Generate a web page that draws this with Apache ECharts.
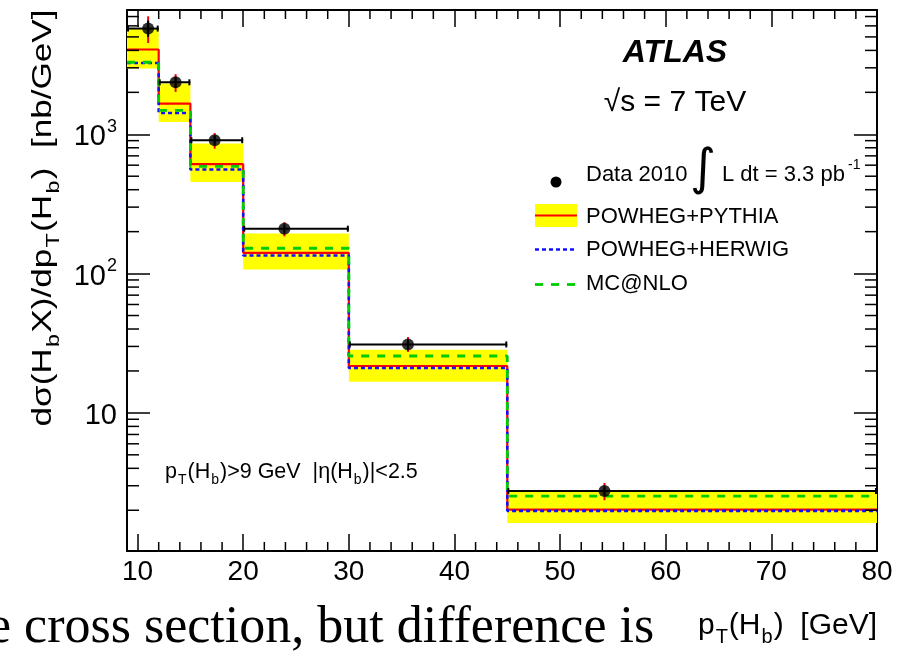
<!DOCTYPE html>
<html>
<head>
<meta charset="utf-8">
<script src="https://cdn.jsdelivr.net/npm/echarts@6/dist/echarts.min.js"></script>
<style>
  html, body { margin: 0; padding: 0; background: #fff; }
  #chart { width: 902px; height: 657px; }
</style>
</head>
<body>
<div id="chart"></div>
<script>
// Bin edges of the b-hadron transverse momentum, GeV
const binEdges = [9, 12, 15, 20, 30, 45, 80];

// Predictions, nb/GeV, one value per bin
const powhegPythia     = [4060, 1660, 610, 141, 21.7, 2.02];
const powhegPythiaLow  = [2970, 1225, 455, 107, 16.7, 1.62];
const powhegPythiaHigh = [5740, 2310, 857, 194, 28.4, 2.70];
const powhegHerwig     = [3250, 1423, 558, 135, 21.0, 1.98];
const mcAtNlo          = [3290, 1486, 589, 152, 25.6, 2.53];

// Measurement: bin centroid, cross section, statistical and total error bands
const dataX       = [11.0, 13.6, 17.3, 23.9, 35.6, 54.2];
const dataY       = [5740, 2360, 906, 210, 31.0, 2.75];
const dataStatLow = [5000, 2150, 835, 196, 28.8, 2.55];
const dataStatHigh= [6550, 2580, 980, 224, 33.2, 2.95];
const dataTotLow  = [4520, 2015, 789, 185, 27.4, 2.36];
const dataTotHigh = [7030, 2700, 1020, 234, 35.0, 3.14];

// Axis ranges and major tick labels
const xRange = [9, 80];
const yRange = [1.02, 7800];
const xTickLabels = [10, 20, 30, 40, 50, 60, 70, 80];
const yTickLabels = [10, 100, 1000];

const FONT = "'Liberation Sans', Arial, Helvetica, sans-serif";
const GRID = { left: 127, top: 10, width: 750, height: 541 };

// step-line points: each bin starts at its lower edge, closing point at the last edge
function stepPoints(values) {
  const pts = values.map((v, i) => [binEdges[i], v]);
  pts.push([binEdges[binEdges.length - 1], values[values.length - 1]]);
  return pts;
}

// minor tick positions (log decades 2..9 and every 2 GeV)
const yMinor = [];
for (let d = 1; d <= 1000; d *= 10) {
  for (let k = 2; k <= 9; k++) {
    const v = k * d;
    if (v > yRange[0] && v < yRange[1]) yMinor.push(v);
  }
}
const xMinor = [];
for (let v = 10; v < 80; v += 2) if (v % 10 !== 0) xMinor.push(v);

const bandData = powhegPythia.map((_, i) => [binEdges[i], binEdges[i + 1], powhegPythiaLow[i], powhegPythiaHigh[i]]);
const errData = dataX.map((x, i) => [binEdges[i], binEdges[i + 1], x, dataY[i], dataTotLow[i], dataTotHigh[i], dataStatLow[i], dataStatHigh[i]]);

function superLabel(v) {
  if (v === 10) return '{m|10}';
  if (v === 100) return '{m|10}{s|2}';
  if (v === 1000) return '{m|10}{s|3}';
  return '';
}

const chart = echarts.init(document.getElementById('chart'), null, { renderer: 'canvas' });

const axisLine = { show: true, onZero: false, lineStyle: { color: '#000', width: 2 } };

chart.setOption({
  animation: false,
  backgroundColor: '#fff',
  grid: Object.assign({}, GRID, { containLabel: false }),
  xAxis: [
    {
      type: 'value', min: xRange[0], max: xRange[1], position: 'bottom',
      axisLine,
      axisTick: { inside: true, length: 17, lineStyle: { color: '#000', width: 1.5 }, customValues: xTickLabels },
      axisLabel: { customValues: xTickLabels, color: '#000', fontFamily: FONT, fontSize: 28, margin: 7 },
      splitLine: { show: false }
    },
    {
      type: 'value', min: xRange[0], max: xRange[1], position: 'top',
      axisLine,
      axisTick: { inside: true, length: 17, lineStyle: { color: '#000', width: 1.5 }, customValues: xTickLabels },
      axisLabel: { show: false },
      splitLine: { show: false }
    }
  ],
  yAxis: [
    {
      type: 'log', logBase: 10, min: yRange[0], max: yRange[1], position: 'left',
      axisLine,
      axisTick: { inside: true, length: 23, lineStyle: { color: '#000', width: 1.5 }, customValues: yTickLabels },
      axisLabel: {
        customValues: yTickLabels, margin: 10, color: '#000',
        formatter: superLabel,
        rich: {
          m: { fontFamily: FONT, fontSize: 29, color: '#000', padding: [6, 0, 0, 0] },
          s: { fontFamily: FONT, fontSize: 18, color: '#000', padding: [0, 0, 15, 1] }
        }
      },
      splitLine: { show: false }
    },
    {
      type: 'log', logBase: 10, min: yRange[0], max: yRange[1], position: 'right',
      axisLine,
      axisTick: { inside: true, length: 23, lineStyle: { color: '#000', width: 1.5 }, customValues: yTickLabels },
      axisLabel: { show: false },
      splitLine: { show: false }
    }
  ],
  series: [
    {
      name: 'POWHEG+PYTHIA band', type: 'custom', z: 1,
      data: bandData,
      encode: { x: [0, 1], y: [2, 3] },
      renderItem(params, api) {
        const p0 = api.coord([api.value(0), api.value(3)]);
        const p1 = api.coord([api.value(1), api.value(2)]);
        return { type: 'rect', shape: { x: p0[0], y: p0[1], width: p1[0] - p0[0], height: p1[1] - p0[1] },
                 style: { fill: '#ffff00' } };
      }
    },
    {
      name: 'POWHEG+PYTHIA', type: 'line', step: 'end', z: 3, showSymbol: false,
      data: stepPoints(powhegPythia),
      lineStyle: { color: '#ff0000', width: 2.2 }
    },
    {
      name: 'POWHEG+HERWIG', type: 'line', step: 'end', z: 4, showSymbol: false,
      data: stepPoints(powhegHerwig),
      lineStyle: { color: '#1010ff', width: 2.6, type: [4, 3] }
    },
    {
      name: 'MC@NLO', type: 'line', step: 'end', z: 5, showSymbol: false,
      data: stepPoints(mcAtNlo),
      lineStyle: { color: '#00cc00', width: 2.8, type: [8, 8] }
    },
    {
      name: 'Data errors', type: 'custom', z: 6,
      data: errData,
      encode: { x: [0, 1], y: [4, 5] },
      renderItem(params, api) {
        const xl = api.value(0), xh = api.value(1), x = api.value(2), y = api.value(3);
        const pl = api.coord([xl, y]), ph = api.coord([xh, y]);
        const tl = api.coord([x, api.value(4)]), th = api.coord([x, api.value(5)]);
        const sl = api.coord([x, api.value(6)]), sh = api.coord([x, api.value(7)]);
        const black = { stroke: '#000', lineWidth: 2 };
        return { type: 'group', children: [
          { type: 'line', shape: { x1: tl[0], y1: tl[1], x2: th[0], y2: th[1] }, style: { stroke: '#ff0000', lineWidth: 2 } },
          { type: 'line', shape: { x1: pl[0], y1: pl[1], x2: ph[0], y2: ph[1] }, style: black },
          { type: 'line', shape: { x1: pl[0] + 1, y1: pl[1] - 3, x2: pl[0] + 1, y2: pl[1] + 3 }, style: black },
          { type: 'line', shape: { x1: ph[0] - 1, y1: ph[1] - 3, x2: ph[0] - 1, y2: ph[1] + 3 }, style: black },
          { type: 'line', shape: { x1: sl[0], y1: sl[1], x2: sh[0], y2: sh[1] }, style: black }
        ] };
      }
    },
    {
      name: 'Data 2010', type: 'scatter', z: 7,
      data: dataX.map((x, i) => [x, dataY[i]]),
      symbol: 'circle', symbolSize: 12,
      itemStyle: { color: '#000' }
    },
    {
      name: 'minor ticks y', type: 'custom', z: 8, silent: true,
      data: yMinor.map(v => [xRange[0], v]),
      renderItem(params, api) {
        const v = api.value(1);
        const l = api.coord([xRange[0], v]), r = api.coord([xRange[1], v]);
        const st = { stroke: '#000', lineWidth: 1.5 };
        return { type: 'group', children: [
          { type: 'line', shape: { x1: l[0], y1: l[1], x2: l[0] + 12, y2: l[1] }, style: st },
          { type: 'line', shape: { x1: r[0], y1: r[1], x2: r[0] - 12, y2: r[1] }, style: st }
        ] };
      }
    },
    {
      name: 'minor ticks x', type: 'custom', z: 8, silent: true,
      data: xMinor.map(v => [v, yRange[0]]),
      renderItem(params, api) {
        const v = api.value(0);
        const b = api.coord([v, yRange[0]]), t = api.coord([v, yRange[1]]);
        const st = { stroke: '#000', lineWidth: 1.5 };
        return { type: 'group', children: [
          { type: 'line', shape: { x1: b[0], y1: b[1], x2: b[0], y2: b[1] - 9 }, style: st },
          { type: 'line', shape: { x1: t[0], y1: t[1], x2: t[0], y2: t[1] + 9 }, style: st }
        ] };
      }
    }
  ],
  graphic: [
    // y-axis title, stretched along its length
    {
      type: 'text', x: 44, y: 218, rotation: Math.PI / 2, scaleX: 1.3, z: 20,
      style: {
        text: '{m|dσ(H}{s|b}{m|X)/dp}{s|T}{m|(H}{s|b}{m|)  [nb/GeV]}',
        align: 'center', verticalAlign: 'middle',
        rich: {
          m: { fontFamily: FONT, fontSize: 27, fill: '#000' },
          s: { fontFamily: FONT, fontSize: 18, fill: '#000', padding: [20, 1, 0, 1] }
        }
      }
    },
    // x-axis title
    {
      type: 'text', x: 877, y: 626, z: 20,
      style: {
        text: '{m|p}{s|T}{m|(H}{s|b}{m|)  [GeV]}',
        align: 'right', verticalAlign: 'middle',
        rich: {
          m: { fontFamily: FONT, fontSize: 30, fill: '#000' },
          s: { fontFamily: FONT, fontSize: 20, fill: '#000', padding: [22, 1, 0, 1] }
        }
      }
    },
    // ATLAS label
    {
      type: 'text', x: 675, y: 53, z: 20,
      style: { text: 'ATLAS', align: 'center', verticalAlign: 'middle', font: "italic bold 32px 'Liberation Sans', Arial, sans-serif", fill: '#000' }
    },
    {
      type: 'text', x: 675, y: 103, z: 20,
      style: { text: '√s = 7 TeV', align: 'center', verticalAlign: 'middle', font: "30px 'Liberation Sans', Arial, sans-serif", fill: '#000' }
    },
    // legend
    { type: 'circle', shape: { cx: 556, cy: 182, r: 5.5 }, style: { fill: '#000' }, z: 20 },
    {
      type: 'text', x: 586, y: 175, z: 20,
      style: { text: 'Data 2010', align: 'left', verticalAlign: 'middle', font: "22px 'Liberation Sans', Arial, sans-serif", fill: '#000' }
    },
    {
      type: 'text', x: 703, y: 171, z: 20,
      style: { text: '∫', align: 'center', verticalAlign: 'middle', font: "50px 'DejaVu Sans', sans-serif", fill: '#000' }
    },
    {
      type: 'text', x: 722, y: 175, z: 20,
      style: { text: 'L dt = 3.3 pb', align: 'left', verticalAlign: 'middle', font: "22px 'Liberation Sans', Arial, sans-serif", fill: '#000' }
    },
    {
      type: 'text', x: 848, y: 165, z: 20,
      style: { text: '-1', align: 'left', verticalAlign: 'middle', font: "14px 'Liberation Sans', Arial, sans-serif", fill: '#000' }
    },
    { type: 'rect', shape: { x: 535, y: 204, width: 42, height: 23 }, style: { fill: '#ffff00' }, z: 20 },
    { type: 'line', shape: { x1: 535, y1: 215.5, x2: 577, y2: 215.5 }, style: { stroke: '#ff0000', lineWidth: 2.2 }, z: 21 },
    {
      type: 'text', x: 586, y: 216.5, z: 20,
      style: { text: 'POWHEG+PYTHIA', align: 'left', verticalAlign: 'middle', font: "22px 'Liberation Sans', Arial, sans-serif", fill: '#000' }
    },
    { type: 'line', shape: { x1: 535, y1: 249.5, x2: 577, y2: 249.5 }, style: { stroke: '#1010ff', lineWidth: 2.6, lineDash: [4, 3] }, z: 20 },
    {
      type: 'text', x: 586, y: 250, z: 20,
      style: { text: 'POWHEG+HERWIG', align: 'left', verticalAlign: 'middle', font: "22px 'Liberation Sans', Arial, sans-serif", fill: '#000' }
    },
    { type: 'line', shape: { x1: 535, y1: 284.5, x2: 577, y2: 284.5 }, style: { stroke: '#00cc00', lineWidth: 2.8, lineDash: [8, 8] }, z: 20 },
    {
      type: 'text', x: 586, y: 283.5, z: 20,
      style: { text: 'MC@NLO', align: 'left', verticalAlign: 'middle', font: "22px 'Liberation Sans', Arial, sans-serif", fill: '#000' }
    },
    // selection cuts
    {
      type: 'text', x: 165, y: 472, z: 20,
      style: {
        text: '{m|p}{s|T}{m|(H}{s|b}{m|)>9 GeV  |η(H}{s|b}{m|)|<2.5}',
        align: 'left', verticalAlign: 'middle',
        rich: {
          m: { fontFamily: FONT, fontSize: 21.5, fill: '#000' },
          s: { fontFamily: FONT, fontSize: 14, fill: '#000', padding: [17, 1, 0, 1] }
        }
      }
    },
    // slide caption running underneath
    {
      type: 'text', x: -12, y: 628, z: 20,
      style: { text: 'e cross section, but difference is', align: 'left', verticalAlign: 'middle',
               font: "52px 'Liberation Serif', 'Times New Roman', serif", fill: '#000' }
    }
  ]
});
</script>
</body>
</html>
